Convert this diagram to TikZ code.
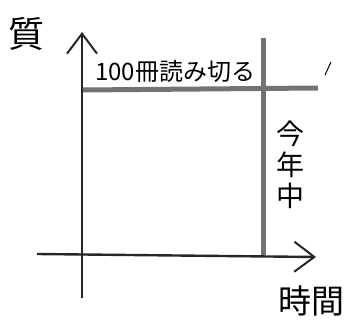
\documentclass[tikz,border=0pt]{standalone}
\usepackage{fontspec}
\newfontfamily\cjk{Noto Sans CJK JP}
\usetikzlibrary{arrows.meta}
\begin{document}
\begin{tikzpicture}[x=1pt,y=-1pt,
  axis/.style={line width=2.4pt,black!85,-{Straight Barb[length=20pt,width=30pt,line width=2pt]}},
  limit/.style={line width=5pt,black!55},
  lbl/.style={font=\cjk, inner sep=0pt}]
\useasboundingbox (0,0) rectangle (345,326);
% axes
\coordinate (yb) at (82,298);
\coordinate (yt) at (82,32);
\coordinate (xl) at (37,254);
\coordinate (xr) at (316,257);
\draw[axis] (yb) -- (yt);
\draw[axis] (xl) -- (xr);
% gray limit lines
\coordinate (hl) at (83,90);
\coordinate (hr) at (318,88);
\coordinate (vt) at (263,38);
\coordinate (vb) at (263,255);
\draw[limit] (hl) -- (hr);
\draw[limit] (vt) -- (vb);
% stray mark
\coordinate (s1) at (331,62);
\coordinate (s2) at (325,75);
\draw[line width=1pt] (s1) -- (s2);
% labels
\node[lbl, font=\cjk\fontsize{36}{36}\selectfont] (q) at (27,34) {質};
\node[lbl, font=\cjk\fontsize{33}{33}\selectfont] (t) at (311,301) {時間};
\node[lbl, font=\cjk\fontsize{24}{24}\selectfont, anchor=west] (g) at (95,71) {100冊読み切る};
\node[lbl, font=\cjk\fontsize{28}{31}\selectfont, align=center] (k) at (290,165) {今\\年\\中};
\end{tikzpicture}
\end{document}
